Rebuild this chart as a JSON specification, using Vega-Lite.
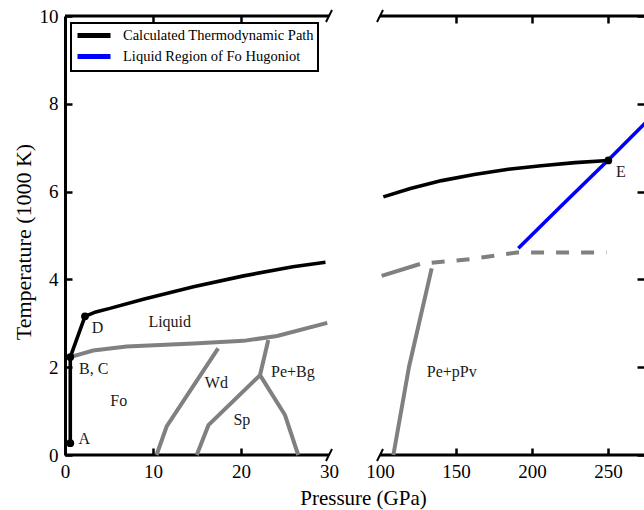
{
  "$schema": "https://vega.github.io/schema/vega-lite/v6.json",
  "width": 579,
  "height": 439,
  "autosize": {"type": "none"},
  "padding": {"left": 65, "top": 16, "right": 0, "bottom": 55},
  "background": "white",
  "config": {
    "view": {"stroke": null},
    "font": "Liberation Serif",
    "axis": {"grid": false},
    "legend": {"strokeWidth": 2}
  },
  "datasets": {
    "path": [
      {"series": "Calculated Thermodynamic Path", "seg": "L", "i": 1, "p": 0.6, "t": 0.27},
      {"series": "Calculated Thermodynamic Path", "seg": "L", "i": 2, "p": 0.6, "t": 2.23},
      {"series": "Calculated Thermodynamic Path", "seg": "L", "i": 3, "p": 2.27, "t": 3.16},
      {"series": "Calculated Thermodynamic Path", "seg": "L", "i": 4, "p": 3.5, "t": 3.26},
      {"series": "Calculated Thermodynamic Path", "seg": "L", "i": 5, "p": 5.1, "t": 3.34},
      {"series": "Calculated Thermodynamic Path", "seg": "L", "i": 6, "p": 8.9, "t": 3.55},
      {"series": "Calculated Thermodynamic Path", "seg": "L", "i": 7, "p": 14.6, "t": 3.83},
      {"series": "Calculated Thermodynamic Path", "seg": "L", "i": 8, "p": 20.3, "t": 4.08},
      {"series": "Calculated Thermodynamic Path", "seg": "L", "i": 9, "p": 25.9, "t": 4.29},
      {"series": "Calculated Thermodynamic Path", "seg": "L", "i": 10, "p": 29.6, "t": 4.39},
      {"series": "Calculated Thermodynamic Path", "seg": "R", "i": 1, "p": 102.2, "t": 5.88},
      {"series": "Calculated Thermodynamic Path", "seg": "R", "i": 2, "p": 120, "t": 6.07},
      {"series": "Calculated Thermodynamic Path", "seg": "R", "i": 3, "p": 140.6, "t": 6.25},
      {"series": "Calculated Thermodynamic Path", "seg": "R", "i": 4, "p": 162, "t": 6.39},
      {"series": "Calculated Thermodynamic Path", "seg": "R", "i": 5, "p": 184.4, "t": 6.51},
      {"series": "Calculated Thermodynamic Path", "seg": "R", "i": 6, "p": 206, "t": 6.59},
      {"series": "Calculated Thermodynamic Path", "seg": "R", "i": 7, "p": 228.3, "t": 6.66},
      {"series": "Calculated Thermodynamic Path", "seg": "R", "i": 8, "p": 250.2, "t": 6.71},
      {"series": "Liquid Region of Fo Hugoniot", "seg": "H", "i": 1, "p": 191, "t": 4.71},
      {"series": "Liquid Region of Fo Hugoniot", "seg": "H", "i": 2, "p": 220, "t": 5.7},
      {"series": "Liquid Region of Fo Hugoniot", "seg": "H", "i": 3, "p": 250.2, "t": 6.72},
      {"series": "Liquid Region of Fo Hugoniot", "seg": "H", "i": 4, "p": 275, "t": 7.58}
    ],
    "phase": [
      {"seg": "liq", "i": 1, "p": 0.57, "t": 2.23},
      {"seg": "liq", "i": 2, "p": 3.2, "t": 2.38},
      {"seg": "liq", "i": 3, "p": 7.0, "t": 2.47},
      {"seg": "liq", "i": 4, "p": 14.6, "t": 2.54},
      {"seg": "liq", "i": 5, "p": 20.3, "t": 2.6},
      {"seg": "liq", "i": 6, "p": 24.1, "t": 2.71},
      {"seg": "liq", "i": 7, "p": 29.8, "t": 3.01},
      {"seg": "fowd", "i": 1, "p": 10.4, "t": 0},
      {"seg": "fowd", "i": 2, "p": 11.55, "t": 0.65},
      {"seg": "fowd", "i": 3, "p": 17.4, "t": 2.43},
      {"seg": "wdsp", "i": 1, "p": 14.97, "t": 0},
      {"seg": "wdsp", "i": 2, "p": 16.3, "t": 0.68},
      {"seg": "wdsp", "i": 3, "p": 22.16, "t": 1.82},
      {"seg": "wdsp", "i": 4, "p": 23.1, "t": 2.62},
      {"seg": "sppe", "i": 1, "p": 22.16, "t": 1.82},
      {"seg": "sppe", "i": 2, "p": 25.0, "t": 0.91},
      {"seg": "sppe", "i": 3, "p": 26.5, "t": 0},
      {"seg": "ppv", "i": 1, "p": 108.8, "t": 0},
      {"seg": "ppv", "i": 2, "p": 119.1, "t": 2.01},
      {"seg": "ppv", "i": 3, "p": 134, "t": 4.25},
      {"seg": "liqR", "i": 1, "p": 101.1, "t": 4.08},
      {"seg": "liqR", "i": 2, "p": 126.3, "t": 4.35}
    ],
    "dashed": [
      {"i": 1, "p": 134, "t": 4.38},
      {"i": 2, "p": 159.2, "t": 4.46},
      {"i": 3, "p": 183.3, "t": 4.58},
      {"i": 4, "p": 190, "t": 4.61},
      {"i": 5, "p": 249, "t": 4.61}
    ],
    "dots": [
      {"name": "A", "p": 0.6, "t": 0.27},
      {"name": "B, C", "p": 0.6, "t": 2.23},
      {"name": "D", "p": 2.27, "t": 3.16},
      {"name": "E", "p": 250.2, "t": 6.71}
    ],
    "labels": [
      {"label": "A", "p": 2.18, "t": 0.36},
      {"label": "B, C", "p": 3.26, "t": 1.95},
      {"label": "D", "p": 3.69, "t": 2.89},
      {"label": "E", "p": 258.4, "t": 6.44},
      {"label": "Liquid", "p": 11.9, "t": 3.03},
      {"label": "Fo", "p": 6.1, "t": 1.24},
      {"label": "Wd", "p": 17.2, "t": 1.65},
      {"label": "Sp", "p": 20.1, "t": 0.8},
      {"label": "Pe+Bg", "p": 25.9, "t": 1.9},
      {"label": "Pe+pPv", "p": 147.2, "t": 1.9}
    ],
    "breaks": [
      {"p": 30, "t": 0},
      {"p": 30, "t": 10},
      {"p": 100, "t": 0},
      {"p": 100, "t": 10}
    ]
  },
  "resolve": {"axis": {"x": "independent", "y": "independent"}},
  "layer": [
    {
      "data": {"values": [{"a": 0, "b": 30, "t": 0}, {"a": 100, "b": 275, "t": 0}]},
      "mark": {"type": "rule", "strokeWidth": 3, "color": "black"},
      "encoding": {
        "x": {
          "field": "a", "type": "quantitative",
          "scale": {"type": "linear", "domain": [0, 30, 100, 275], "range": [0, 264, 315, 581], "nice": false, "zero": false},
          "axis": {
            "orient": "bottom", "values": [0, 10, 20, 30, 100, 150, 200, 250],
            "domain": false, "tickSize": -7, "tickWidth": 2.5, "tickColor": "black",
            "tickOpacity": {"condition": {"test": "datum.value == 0 || datum.value == 30 || datum.value == 100", "value": 0}, "value": 1},
            "labelPadding": 14, "labelFont": "Liberation Serif", "labelFontSize": 19, "labelColor": "black",
            "labelFlush": false, "labelOverlap": false,
            "title": "Pressure (GPa)", "titleFont": "Liberation Serif", "titleFontSize": 21, "titleFontWeight": "normal",
            "titleColor": "black", "titleX": 298, "titleY": 49, "titleBaseline": "alphabetic", "titleAlign": "center"
          }
        },
        "x2": {"field": "b"},
        "y": {
          "field": "t", "type": "quantitative",
          "scale": {"domain": [0, 10], "nice": false, "zero": false},
          "axis": {
            "orient": "left", "values": [0, 2, 4, 6, 8, 10],
            "domain": true, "domainWidth": 3, "domainColor": "black",
            "tickSize": -7, "tickWidth": 2.5, "tickColor": "black",
            "labelPadding": 14, "labelFont": "Liberation Serif", "labelFontSize": 19, "labelColor": "black",
            "labelFlush": false, "labelOverlap": false,
            "title": "Temperature (1000 K)", "titleFont": "Liberation Serif", "titleFontSize": 22, "titleFontWeight": "normal",
            "titleColor": "black", "titleX": -35, "titleY": 225.5, "titleBaseline": "alphabetic", "titleAlign": "center", "titleAngle": -90
          }
        }
      }
    },
    {
      "data": {"values": [{"a": 0, "b": 30, "t": 10}, {"a": 100, "b": 275, "t": 10}]},
      "mark": {"type": "rule", "strokeWidth": 3, "color": "black"},
      "encoding": {
        "x": {
          "field": "a", "type": "quantitative",
          "scale": {"type": "linear", "domain": [0, 30, 100, 275], "range": [0, 264, 315, 581], "nice": false, "zero": false},
          "axis": {
            "orient": "top", "values": [10, 20, 150, 200, 250], "domain": false, "labels": false,
            "tickSize": -7, "tickWidth": 2.5, "tickColor": "black", "title": null
          }
        },
        "x2": {"field": "b"},
        "y": {
          "field": "t", "type": "quantitative",
          "scale": {"domain": [0, 10], "nice": false, "zero": false},
          "axis": {
            "orient": "right", "values": [0, 2, 4, 6, 8, 10], "domain": false, "labels": false,
            "tickSize": -7, "tickWidth": 2.5, "tickColor": "black", "title": null
          }
        }
      }
    },
    {
      "data": {"name": "phase"},
      "mark": {"type": "line", "color": "#808080", "strokeWidth": 4, "strokeCap": "butt"},
      "encoding": {
        "x": {"field": "p", "type": "quantitative", "axis": null},
        "y": {"field": "t", "type": "quantitative", "axis": null},
        "detail": {"field": "seg"},
        "order": {"field": "i", "type": "quantitative"}
      }
    },
    {
      "data": {"name": "dashed"},
      "mark": {"type": "line", "color": "#808080", "strokeWidth": 4, "strokeDash": [13, 12], "strokeCap": "butt"},
      "encoding": {
        "x": {"field": "p", "type": "quantitative", "axis": null},
        "y": {"field": "t", "type": "quantitative", "axis": null},
        "order": {"field": "i", "type": "quantitative"}
      }
    },
    {
      "data": {"name": "path"},
      "mark": {"type": "line", "strokeWidth": 3.6, "clip": true},
      "encoding": {
        "x": {"field": "p", "type": "quantitative", "axis": null},
        "y": {"field": "t", "type": "quantitative", "axis": null},
        "detail": {"field": "seg"},
        "order": {"field": "i", "type": "quantitative"},
        "color": {
          "field": "series", "type": "nominal",
          "scale": {"domain": ["Calculated Thermodynamic Path", "Liquid Region of Fo Hugoniot"], "range": ["black", "#0000ff"]},
          "legend": {
            "title": null, "orient": "none", "legendX": 6, "legendY": 7,
            "symbolType": "M-1,0L4.5,0", "symbolSize": 144, "symbolStrokeWidth": 5,
            "labelFont": "Liberation Serif", "labelFontSize": 14.5, "labelColor": "black", "labelOffset": 31,
            "labelLimit": 400,
            "strokeColor": "black", "padding": 4, "rowPadding": 0, "fillColor": "white"
          }
        }
      }
    },
    {
      "data": {"name": "dots"},
      "mark": {"type": "point", "filled": true, "color": "black", "size": 60, "opacity": 1},
      "encoding": {
        "x": {"field": "p", "type": "quantitative", "axis": null},
        "y": {"field": "t", "type": "quantitative", "axis": null}
      }
    },
    {
      "data": {"name": "labels"},
      "mark": {"type": "text", "font": "Liberation Serif", "fontSize": 16, "color": "#1a1a1a", "align": "center", "baseline": "middle"},
      "encoding": {
        "x": {"field": "p", "type": "quantitative", "axis": null},
        "y": {"field": "t", "type": "quantitative", "axis": null},
        "text": {"field": "label"}
      }
    },
    {
      "data": {"name": "breaks"},
      "mark": {"type": "point", "shape": "M-0.5,1L0.5,-1", "size": 144, "filled": false, "stroke": "black", "strokeWidth": 2, "opacity": 1},
      "encoding": {
        "x": {"field": "p", "type": "quantitative", "axis": null},
        "y": {"field": "t", "type": "quantitative", "axis": null}
      }
    }
  ]
}
